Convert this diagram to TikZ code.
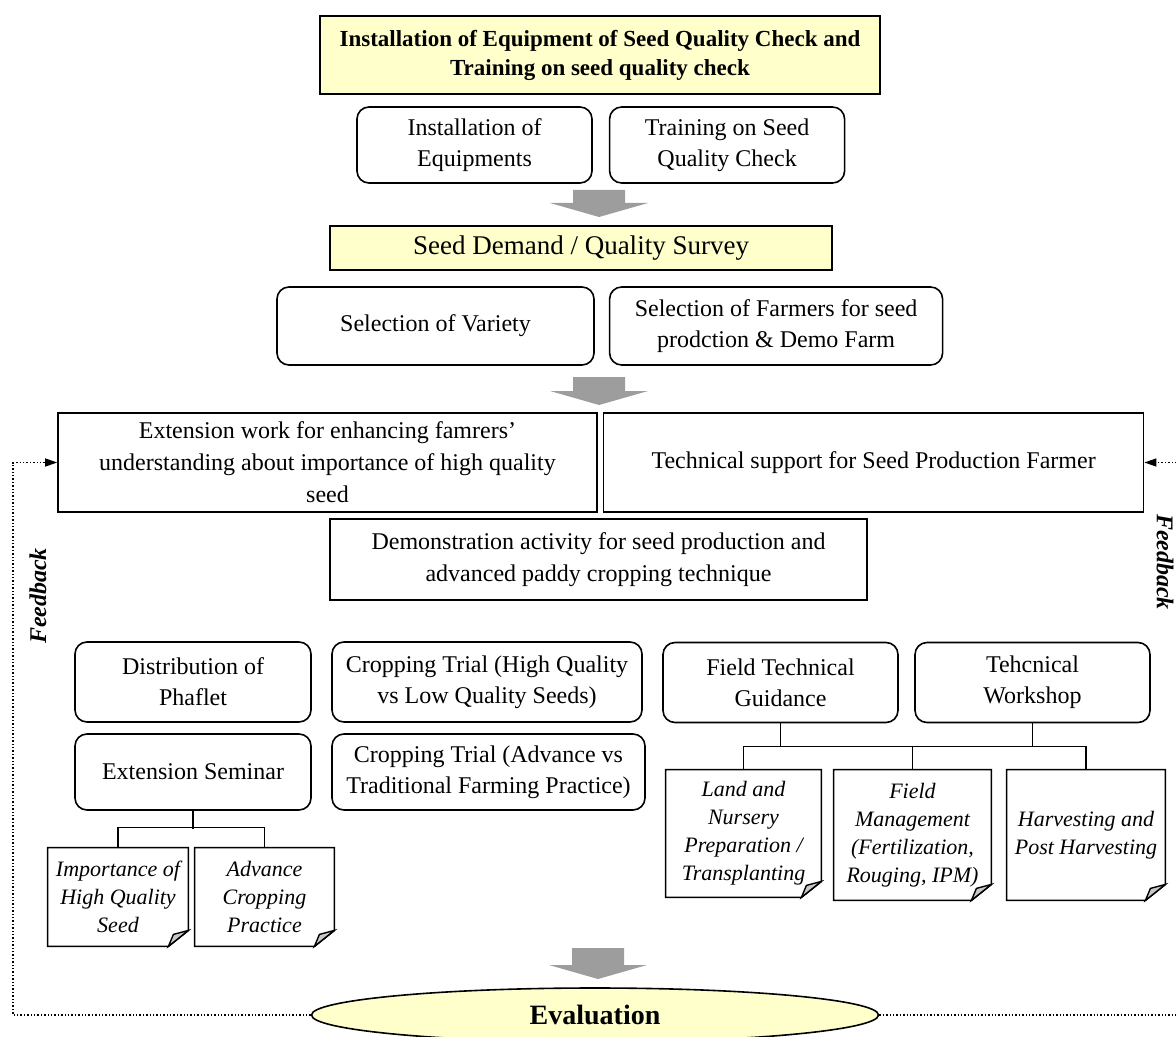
\documentclass[tikz,border=0pt]{standalone}
\usepackage{fontspec}
\setmainfont{Liberation Serif}
\usetikzlibrary{arrows.meta,positioning,shapes.geometric}
\definecolor{PaleYellow}{HTML}{FFFFCC}
\definecolor{ArrowGray}{HTML}{9D9D9D}
\definecolor{FoldGray}{HTML}{C8C8C8}
% x, top, tip of a grey block arrow pointing down
\newcommand{\blockdown}[3]{\fill[ArrowGray] (#1-26,#2) -- (#1+26,#2) -- (#1+26,#3-14) -- (#1+49,#3-14) -- (#1,#3) -- (#1-49,#3-14) -- (#1-26,#3-14) -- cycle;}

\begin{document}
\begin{tikzpicture}[x=0.5pt,y=-0.5pt,
box/.style={draw,line width=0.8pt,align=center,inner sep=0pt,font=\fontsize{12}{15.5}\selectfont},
rbox/.style={box,rounded corners=6pt},
hdr/.style={box,fill=PaleYellow},
note/.style={align=center,inner sep=0pt,font=\fontsize{11}{14}\selectfont\itshape},
link/.style={line width=0.8pt},
fb/.style={line width=0.7pt,dash pattern=on 0.7pt off 1pt},
fbarr/.style={fb,-{Triangle[length=6pt,width=4pt]}}]
\useasboundingbox (0,0) rectangle (1176,1037);
\node[hdr,minimum width=280pt,minimum height=39pt,font=\fontsize{11.5}{14.5}\selectfont\bfseries] (top) at (600,55) {Installation of Equipment of Seed Quality Check and\\Training on seed quality check};
\node[rbox,minimum width=117.5pt,minimum height=38pt] (inst) at (474.5,145) {Installation of\\Equipments};
\node[rbox,minimum width=117.5pt,minimum height=38pt,right=8pt of inst] (train) {Training on Seed\\Quality Check};
\node[hdr,minimum width=251pt,minimum height=22pt,font=\fontsize{13.5}{16}\selectfont] (survey) at (581,248) {Seed Demand / Quality Survey};
\node[rbox,minimum width=158.5pt,minimum height=39pt] (variety) at (435.5,326) {Selection of Variety};
\node[rbox,minimum width=166.5pt,minimum height=39pt,right=7pt of variety] (farmer) {Selection of Farmers for seed\\prodction \& Demo Farm};
\node[box,minimum width=269.5pt,minimum height=49.5pt,font=\fontsize{12}{16}\selectfont] (ext) at (327.5,462.5) {Extension work for enhancing famrers'\\understanding about importance of high quality\\seed};
\node[box,minimum width=270pt,minimum height=49.5pt,right=2.5pt of ext] (tech) {Technical support for Seed Production Farmer};
\node[box,minimum width=268.5pt,minimum height=40.5pt,font=\fontsize{12}{16}\selectfont] (demo) at (598.5,559.5) {Demonstration activity for seed production and\\advanced paddy cropping technique};
% activities
\node[rbox,minimum width=118pt,minimum height=40pt] (phaflet) at (193,682) {Distribution of\\Phaflet};
\node[rbox,minimum width=155pt,minimum height=40pt] (trialq) at (487,682) {Cropping Trial (High Quality\\vs Low Quality Seeds)};
\node[rbox,minimum width=117.5pt,minimum height=40pt] (guide) at (780.5,682.5) {Field Technical\\Guidance};
\node[rbox,minimum width=117.5pt,minimum height=40pt] (shop) at (1032.5,682.5) {Tehcnical\\Workshop};
\node[rbox,minimum width=118pt,minimum height=38pt] (seminar) at (193,772) {Extension Seminar};
\node[rbox,minimum width=156.5pt,minimum height=38pt] (trialp) at (488.5,772) {Cropping Trial (Advance vs\\Traditional Farming Practice)};
% documents
\node[note,minimum width=70pt,minimum height=49pt] (imp) at (118,897) {Importance of\\High Quality\\Seed};
\node[note,minimum width=69.5pt,minimum height=49pt] (adv) at (264.5,897) {Advance\\Cropping\\Practice};
\node[note,minimum width=77.5pt,minimum height=63.5pt] (land) at (743.5,833.5) {Land and\\Nursery\\Preparation /\\Transplanting};
\node[note,minimum width=78.5pt,minimum height=65pt] (fmgt) at (912.5,835) {Field\\Management\\(Fertilization,\\Rouging, IPM)};
\node[note,minimum width=79pt,minimum height=65pt] (harv) at (1086,835) {Harvesting and\\Post Harvesting};
\foreach \n in {imp,adv,land,fmgt,harv}{
  \draw[link] (\n.north west) -- (\n.north east) -- ([yshift=8pt]\n.south east) -- ([xshift=-10pt]\n.south east) -- (\n.south west) -- cycle;
  \filldraw[fill=FoldGray,line width=0.7pt] ([xshift=-10pt]\n.south east) -- ([yshift=8pt]\n.south east) -- ([xshift=-7.5pt,yshift=6pt]\n.south east) -- cycle;
}
\draw[link] (seminar.south) -- ++(0,18);
\draw[link] (imp.north) -- ++(0,-20) -| (adv.north);
\draw[link] (guide.south) -- ++(0,24);
\draw[link] (shop.south) -- ++(0,24);
\draw[link] (land.north) -- ++(0,-23) -| (harv.north);
\draw[link] (fmgt.north) -- ++(0,-23);
% block arrows
\blockdown{599}{190}{217}
\blockdown{599}{377}{405}
\blockdown{598}{948}{979}
\node[draw,ellipse,fill=PaleYellow,line width=0.8pt,minimum width=283.5pt,minimum height=27pt,inner sep=0pt,font=\fontsize{14}{16}\selectfont\bfseries] (eval) at (595,1015) {Evaluation};
% feedback loop
\coordinate (fbL) at (13,1015);
\coordinate (fbR) at (1180,1015);
\draw[fbarr] (eval.west) -- (fbL) |- (ext.west);
\draw[fbarr] (eval.east) -- (fbR) |- (tech.east);
\node[rotate=90,font=\fontsize{12}{14}\selectfont\bfseries\itshape] (fbtxtL) at (38,596) {Feedback};
\node[rotate=-90,font=\fontsize{12}{14}\selectfont\bfseries\itshape] (fbtxtR) at (1165,562) {Feedback};
\end{tikzpicture}
\end{document}
